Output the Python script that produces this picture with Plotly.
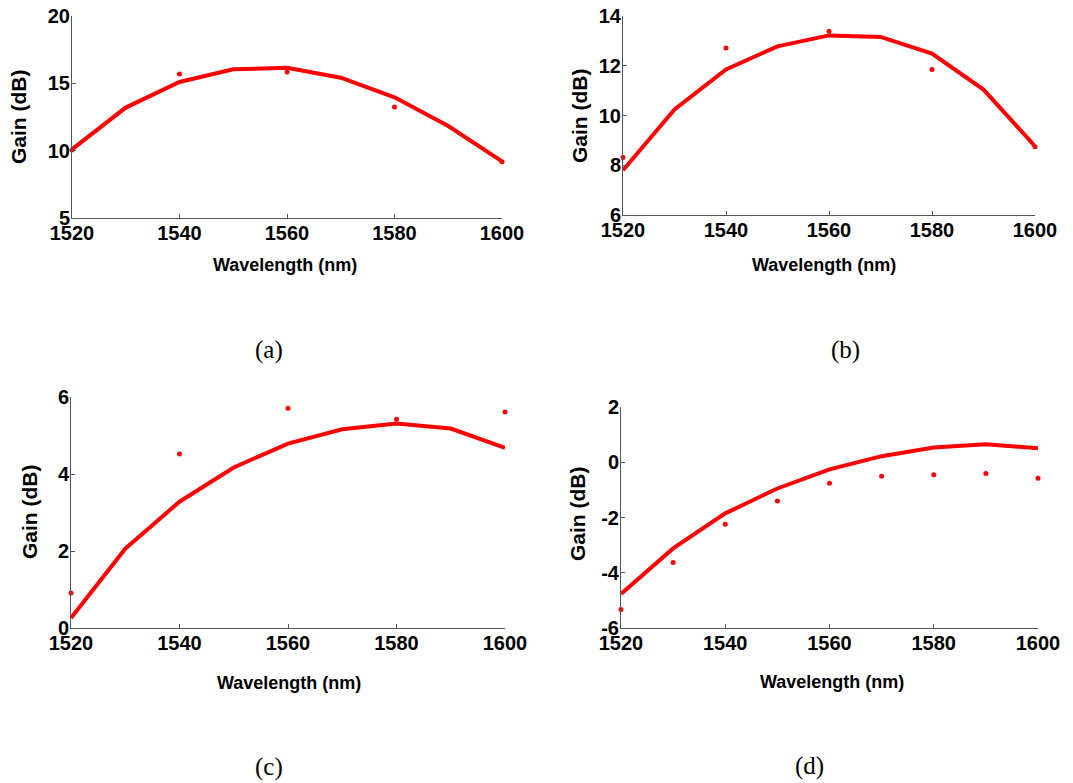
import plotly.graph_objects as go

wl_line = [1520, 1530, 1540, 1550, 1560, 1570, 1580, 1590, 1600]

# (a)
a_line = [10.1, 13.2, 15.1, 16.04, 16.16, 15.42, 13.96, 11.83, 9.2]
a_dot_x = [1520, 1540, 1560, 1580, 1600]
a_dot_y = [10.05, 15.7, 15.84, 13.24, 9.18]

# (b)
b_line = [7.8, 10.24, 11.85, 12.78, 13.22, 13.16, 12.49, 11.04, 8.77]
b_dot_x = [1520, 1540, 1560, 1580, 1600]
b_dot_y = [8.31, 12.71, 13.39, 11.85, 8.74]

# (c)
c_line = [0.26, 2.06, 3.28, 4.17, 4.79, 5.16, 5.31, 5.18, 4.68]
c_dot_x = [1520, 1540, 1560, 1580, 1600]
c_dot_y = [0.91, 4.52, 5.71, 5.42, 5.61]

# (d)
d_line = [-4.77, -3.12, -1.85, -0.95, -0.26, 0.22, 0.53, 0.65, 0.51]
d_dot_x = [1520, 1530, 1540, 1550, 1560, 1570, 1580, 1590, 1600]
d_dot_y = [-5.33, -3.63, -2.24, -1.40, -0.76, -0.51, -0.45, -0.41, -0.58]

x_ticks = [1520, 1540, 1560, 1580, 1600]
a_yticks = [5, 10, 15, 20]
b_yticks = [6, 8, 10, 12, 14]
c_yticks = [0, 2, 4, 6]
d_yticks = [-6, -4, -2, 0, 2]
d_yticklabels = ["-6", "-4", "-2", "0", "2"]

panel_labels = ["(a)", "(b)", "(c)", "(d)"]
x_title = "Wavelength (nm)"
y_title = "Gain (dB)"

W, H = 1073, 783
RED = "#ff0000"
SANS = "Liberation Sans, Arial, sans-serif"


def px(x):
    return x / W


def py(y):
    return 1 - y / H


panels = [
    dict(line=a_line, dx=a_dot_x, dy=a_dot_y, yt=a_yticks, ytl=[str(v) for v in a_yticks],
         xd=(72, 502), yd=(16, 218), lab=(269, 350), xt=(285, 265), ytp=(18, 117)),
    dict(line=b_line, dx=b_dot_x, dy=b_dot_y, yt=b_yticks, ytl=[str(v) for v in b_yticks],
         xd=(623, 1035), yd=(16, 215), lab=(845, 350), xt=(824, 265), ytp=(579, 116)),
    dict(line=c_line, dx=c_dot_x, dy=c_dot_y, yt=c_yticks, ytl=[str(v) for v in c_yticks],
         xd=(71, 505), yd=(397, 628), lab=(269, 767), xt=(289, 683), ytp=(29, 512)),
    dict(line=d_line, dx=d_dot_x, dy=d_dot_y, yt=d_yticks, ytl=d_yticklabels,
         xd=(621, 1038), yd=(407, 628), lab=(809, 766), xt=(832, 682), ytp=(577, 514)),
]

fig = go.Figure()
layout = dict(
    width=W, height=H,
    margin=dict(l=0, r=0, t=0, b=0, autoexpand=False),
    paper_bgcolor="white", plot_bgcolor="white",
    showlegend=False,
)
annotations = []
for i, p in enumerate(panels):
    n = "" if i == 0 else str(i + 1)
    xa, ya = "x" + n, "y" + n
    fig.add_trace(go.Scatter(x=wl_line, y=p["line"], mode="lines",
                             line=dict(color=RED, width=4), xaxis=xa, yaxis=ya,
                             cliponaxis=False))
    fig.add_trace(go.Scatter(x=p["dx"], y=p["dy"], mode="markers",
                             marker=dict(color=RED, size=5), xaxis=xa, yaxis=ya,
                             cliponaxis=False))
    yt = p["yt"]
    common = dict(showgrid=False, zeroline=False, showline=True, linecolor="#555555",
                  linewidth=1, ticks="inside", ticklen=4, tickcolor="#555555",
                  automargin=False, ticklabeloverflow="allow",
                  tickfont=dict(family=SANS, size=20, color="black", weight="bold"))
    layout["xaxis" + n] = dict(
        domain=[px(p["xd"][0]), px(p["xd"][1])], anchor=ya,
        range=[1520, 1600], tickvals=x_ticks, ticklabelstandoff=-3,
        **common)
    layout["yaxis" + n] = dict(
        domain=[py(p["yd"][1]), py(p["yd"][0])], anchor=xa,
        range=[yt[0], yt[-1]], tickvals=yt, ticktext=p["ytl"], ticklabelstandoff=-3,
        **common)
    annotations.append(dict(text=panel_labels[i], x=px(p["lab"][0]), y=py(p["lab"][1]),
                            xref="paper", yref="paper", showarrow=False,
                            xanchor="center", yanchor="middle",
                            font=dict(family="Liberation Serif, Times New Roman, serif", size=25, color="black")))
    annotations.append(dict(text=x_title, x=px(p["xt"][0]), y=py(p["xt"][1]),
                            xref="paper", yref="paper", showarrow=False,
                            xanchor="center", yanchor="middle",
                            font=dict(family=SANS, size=18, color="black", weight="bold")))
    annotations.append(dict(text=y_title, x=px(p["ytp"][0]), y=py(p["ytp"][1]),
                            xref="paper", yref="paper", showarrow=False, textangle=-90,
                            xanchor="center", yanchor="middle",
                            font=dict(family=SANS, size=21, color="black", weight="bold")))
layout["annotations"] = annotations
fig.update_layout(**layout)
fig.write_html("out.html", config={"displayModeBar": False},
               post_script="document.body.style.margin='0px';document.body.style.overflow='hidden';")
